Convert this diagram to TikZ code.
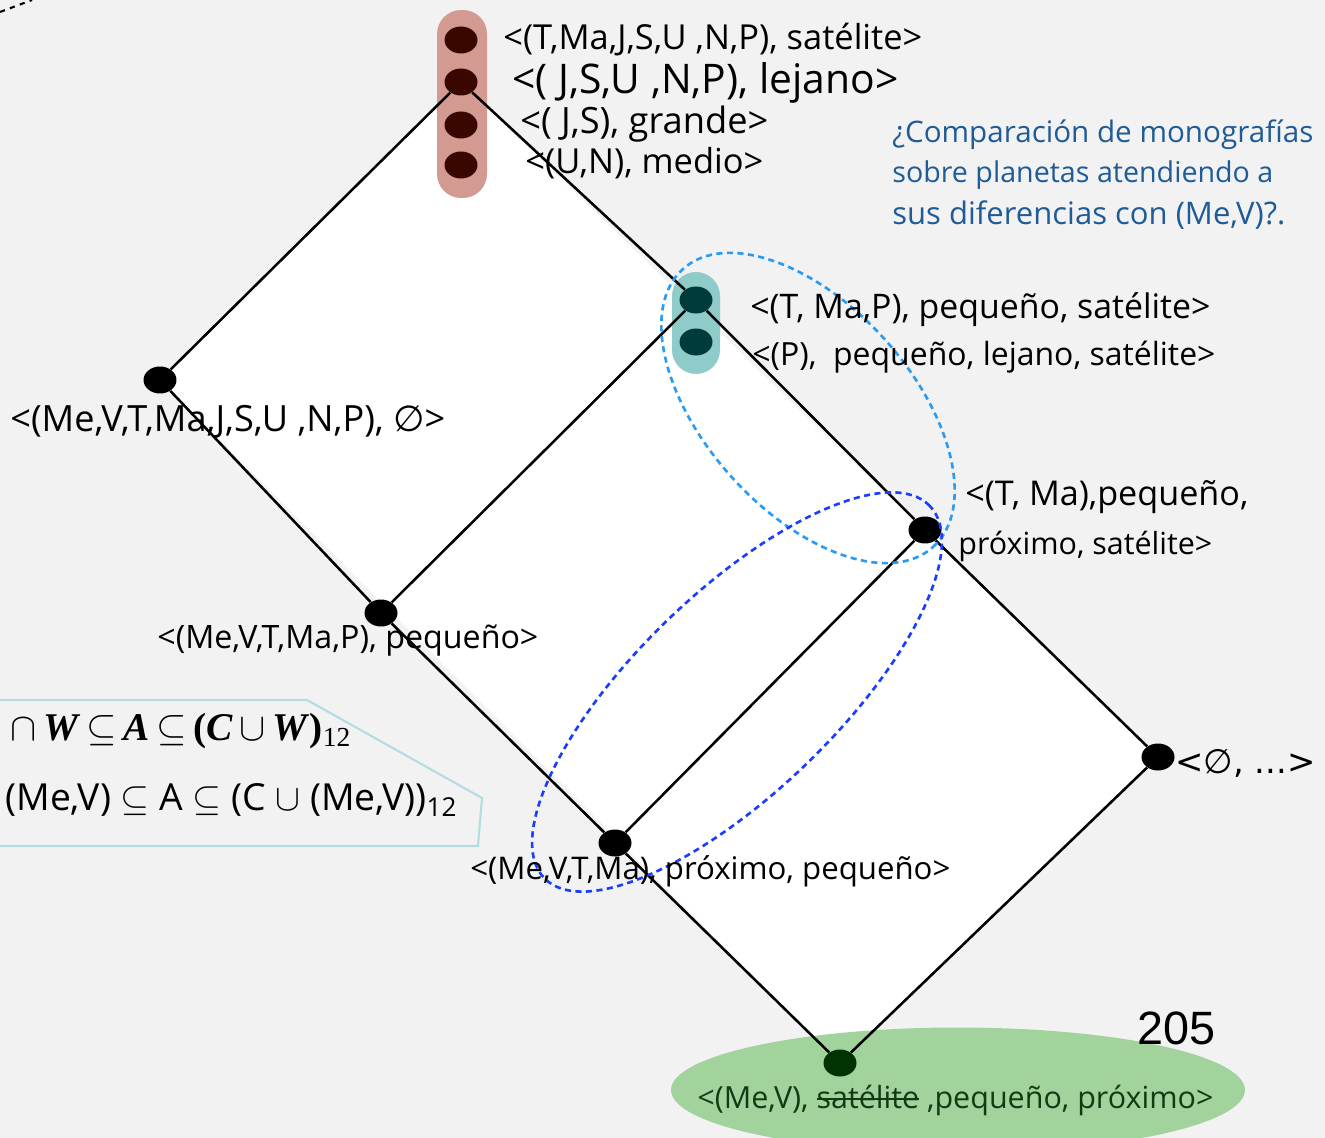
\documentclass[tikz,border=0pt]{standalone}
\usepackage{fontspec}
\usepackage{graphicx}
\usetikzlibrary{shapes.geometric}
\setmainfont{Open Sans}
\newfontfamily\symfont{DejaVu Sans}
\newfontfamily\tnr{Liberation Serif}
\newfontfamily\arial{Liberation Sans}
% one pixel of the drawing grid
\newdimen\pxu \pxu=0.02cm
% scale a text so that it takes exactly #1 pixels of width
\newcommand\fitto[2]{\resizebox{#1\pxu}{!}{#2}}
\newcommand\es{{\symfont ∅}}
% struck-out word
\newsavebox\strkbox
\newcommand\strk[1]{\sbox\strkbox{#1}\rlap{\rule[0.5ex]{\wd\strkbox}{0.07em}}\usebox\strkbox}

\definecolor{bgray}{HTML}{F2F2F2}
\definecolor{pillred}{HTML}{D29A91}
\definecolor{dotred}{HTML}{3A0600}
\definecolor{pillteal}{HTML}{8ECBC9}
\definecolor{dotteal}{HTML}{003B3B}
\definecolor{ovalgreen}{HTML}{A2D39C}
\definecolor{dotgreen}{HTML}{003300}
\definecolor{txtgreen}{HTML}{143A14}
\definecolor{qblue}{HTML}{1F5B97}
\definecolor{lblue}{HTML}{2A9BF5}
\definecolor{dblue}{HTML}{1A3DFF}
\definecolor{boxline}{HTML}{B3DDE2}

\begin{document}
\begin{tikzpicture}[x=0.02cm,y=-0.02cm,
  dot/.style={ellipse, fill=black, inner sep=0pt, minimum width=0.66cm, minimum height=0.54cm},
  pill/.style={rectangle, rounded corners=0.48cm, inner sep=0pt},
  edge/.style={line width=1.45pt, black},
  lbl/.style={anchor=west, inner sep=0pt},
  ring/.style={line width=1.5pt, dash pattern=on 3.5pt off 2.5pt}]
\useasboundingbox (0,0) rectangle (1325,1138);
\clip (0,0) rectangle (1325,1138);
\fill[bgray] (0,0) rectangle (1325,1138);

% corners of the lattice
\coordinate (pT) at (461,82);
\coordinate (pL) at (160,380);
\coordinate (pR) at (1158,757);
\coordinate (pBot) at (840,1063);
\fill[white] (pT) -- (pL) -- (pBot) -- (pR) -- cycle;

% stray dashed stroke in the corner
\draw[dashed, line width=1.2pt] (0,12) -- (32,0);

% green oval at the bottom
\node[ellipse, fill=ovalgreen, inner sep=0pt, minimum width=11.48cm, minimum height=2.5cm] (oval) at (958,1090) {};

% highlighted groups
\node[pill, fill=pillred, minimum width=1cm, minimum height=3.76cm] (pillT) at (462,104) {};
\node[pill, fill=pillteal, minimum width=0.96cm, minimum height=2.04cm] (pillA) at (696,323) {};

% lattice elements
\node[dot, fill=dotred] (T1) at (461,40) {};
\node[dot, fill=dotred] (T2) at (pT) {};
\node[dot, fill=dotred] (T3) at (461,125) {};
\node[dot, fill=dotred] (T4) at (461,165) {};
\node[dot, fill=dotteal] (A1) at (696,300) {};
\node[dot, fill=dotteal] (A2) at (696,342) {};
\node[dot] (L) at (pL) {};
\node[dot] (B) at (381,613) {};
\node[dot] (C) at (925,530) {};
\node[dot] (D) at (615,843) {};
\node[dot] (R) at (pR) {};
\node[dot, fill=dotgreen] (Bot) at (pBot) {};

% order relations
\draw[edge] (T2) -- (L);
\draw[edge] (T2) -- (A1);
\draw[edge] (A1) -- (C);
\draw[edge] (C) -- (R);
\draw[edge] (L) -- (B);
\draw[edge] (B) -- (D);
\draw[edge] (D) -- (Bot);
\draw[edge] (R) -- (Bot);
\draw[edge] (B) -- (A1);
\draw[edge] (D) -- (C);

% dashed groupings
\draw[ring, lblue, rotate around={-48:(808,408)}] (808,408) ellipse [x radius=3.74cm, y radius=2.06cm];
\draw[ring, dblue, rotate around={44:(737,692)}] (737,692) ellipse [x radius=5.36cm, y radius=2.0cm];

% labels of the elements
\node[lbl] (lt1) at (503,40) {\fitto{419}{<(T,Ma,J,S,U ,N,P), satélite>}};
\node[lbl] (lt2) at (512,83) {\fitto{386}{<( J,S,U ,N,P), lejano>}};
\node[lbl] (lt3) at (520,124) {\fitto{248}{<( J,S), grande>}};
\node[lbl] (lt4) at (525,163) {\fitto{238}{<(U,N), medio>}};
\node[lbl] (la1) at (750,310) {\fitto{460}{<(T, Ma,P), pequeño, satélite>}};
\node[lbl] (la2) at (752,357) {\fitto{463}{<(P),\ \ pequeño, lejano, satélite>}};
\node[lbl] (ll) at (10,422) {\fitto{435}{<(Me,V,T,Ma,J,S,U ,N,P), \es>}};
\node[lbl] (lc1) at (965,497) {\fitto{283}{<(T, Ma),pequeño,}};
\node[lbl] (lc2) at (958,546) {\fitto{254}{próximo, satélite>}};
\node[lbl] (lb) at (157,641) {\fitto{381}{<(Me,V,T,Ma,P), pequeño>}};
\node[lbl] (lr) at (1175,763) {\fitto{140}{\symfont <∅, ...>}};
\node[lbl] (ld) at (470,871) {\fitto{480}{<(Me,V,T,Ma), próximo, pequeño>}};
\node[lbl, text=txtgreen] (lbot) at (697,1100) {\fitto{516}{<(Me,V), \strk{satélite} ,pequeño, próximo>}};

% question
\node[lbl, text=qblue] (q1) at (892,135) {\fitto{421}{¿Comparación de monografías}};
\node[lbl, text=qblue] (q2) at (892,175) {\fitto{381}{sobre planetas atendiendo a}};
\node[lbl, text=qblue] (q3) at (892,215) {\fitto{393}{sus diferencias con (Me,V)?.}};

% formula panel
\draw[boxline, line width=1.2pt] (-5,700) -- (307,700) -- (482,798) -- (478,846) -- (-5,846);
\node[lbl] (f1) at (10,731) {\fitto{342}{\tnr $\cap$\,\textbf{\textit{W}}\,$\subseteq$\,\textbf{\textit{A}}\,$\subseteq$\,\textbf{(\textit{C}}\,$\cup$\,\textbf{\textit{W})}\textsubscript{12}}};
\node[lbl] (f2) at (5,800) {\fitto{453}{(Me,V) $\subseteq$ A $\subseteq$ (C $\cup$ (Me,V))\textsubscript{12}}};

% page number
\node[inner sep=0pt] (pnum) at (1176,1028) {\fitto{78}{\arial 205}};
\end{tikzpicture}
\end{document}
